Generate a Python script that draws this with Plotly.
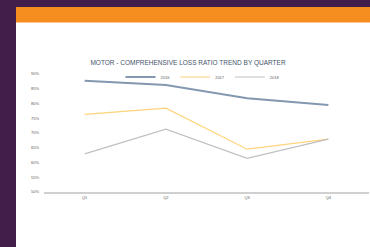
import plotly.graph_objects as go

quarters = ["Q1", "Q2", "Q3", "Q4"]
s2016 = [0.877, 0.863, 0.818, 0.795]
s2017 = [0.763, 0.784, 0.645, 0.679]
s2018 = [0.629, 0.713, 0.614, 0.679]
y_ticks = [0.50, 0.55, 0.60, 0.65, 0.70, 0.75, 0.80, 0.85, 0.90]

fig = go.Figure()
fig.add_trace(go.Scatter(x=quarters, y=s2016, name="2016", mode="lines",
                         line=dict(color="#8497b0", width=2)))
fig.add_trace(go.Scatter(x=quarters, y=s2017, name="2017", mode="lines",
                         line=dict(color="#ffd37a", width=1.2)))
fig.add_trace(go.Scatter(x=quarters, y=s2018, name="2018", mode="lines",
                         line=dict(color="#c0c0c0", width=1.2)))

L, R, T, B = 44, 1, 74, 55
W, H = 370, 247
pw, ph = W - L - R, H - T - B

def px_x(px):
    return (px - L) / pw

def px_y(py):
    return (H - B - py) / ph

purple = "#421e4b"
orange = "#f68d1f"
shapes = [
    dict(type="rect", xref="paper", yref="paper", x0=px_x(0), x1=px_x(16),
         y0=px_y(H), y1=px_y(0), fillcolor=purple, line=dict(width=0), layer="below"),
    dict(type="rect", xref="paper", yref="paper", x0=px_x(0), x1=px_x(W),
         y0=px_y(7), y1=px_y(0), fillcolor=purple, line=dict(width=0), layer="below"),
    dict(type="rect", xref="paper", yref="paper", x0=px_x(16), x1=px_x(W),
         y0=px_y(22), y1=px_y(7), fillcolor=orange, line=dict(width=0), layer="below"),
    dict(type="line", xref="paper", yref="paper", x0=px_x(16), x1=px_x(W),
         y0=px_y(22.5), y1=px_y(22.5), line=dict(color="#fbc98f", width=1)),
]

fig.update_layout(
    width=W, height=H,
    margin=dict(l=L, r=R, t=T, b=B),
    paper_bgcolor="white", plot_bgcolor="white",
    font=dict(family="Liberation Sans Narrow, Liberation Sans, Arial", color="#595959"),
    title=dict(text="MOTOR - COMPREHENSIVE LOSS RATIO TREND BY QUARTER",
               x=px_x(188), xref="paper", xanchor="center",
               y=1 - 63 / H, yref="container", yanchor="middle",
               font=dict(size=6.5, color="#44546a")),
    showlegend=True,
    legend=dict(orientation="h", x=px_x(203), xanchor="center", y=px_y(77), yanchor="middle",
                font=dict(size=4, color="#595959"), bgcolor="rgba(0,0,0,0)",
                itemwidth=30, tracegroupgap=0),
    shapes=shapes,
    xaxis=dict(range=[-0.5, 3.5], showgrid=False, zeroline=False, showline=True,
               linecolor="#d0d0d0", linewidth=1.5, ticks="", tickfont=dict(size=4),
               fixedrange=True),
    yaxis=dict(range=[0.5, 0.9], tickvals=y_ticks, tickformat=".0%", showgrid=False,
               zeroline=False, showline=False, ticks="", tickfont=dict(size=4),
               ticklabelstandoff=4),
)

fig.write_html(
    "out.html",
    config={"displayModeBar": False},
    post_script="document.body.style.margin='0';document.body.style.overflow='hidden';"
                "document.documentElement.style.overflow='hidden';",
)
